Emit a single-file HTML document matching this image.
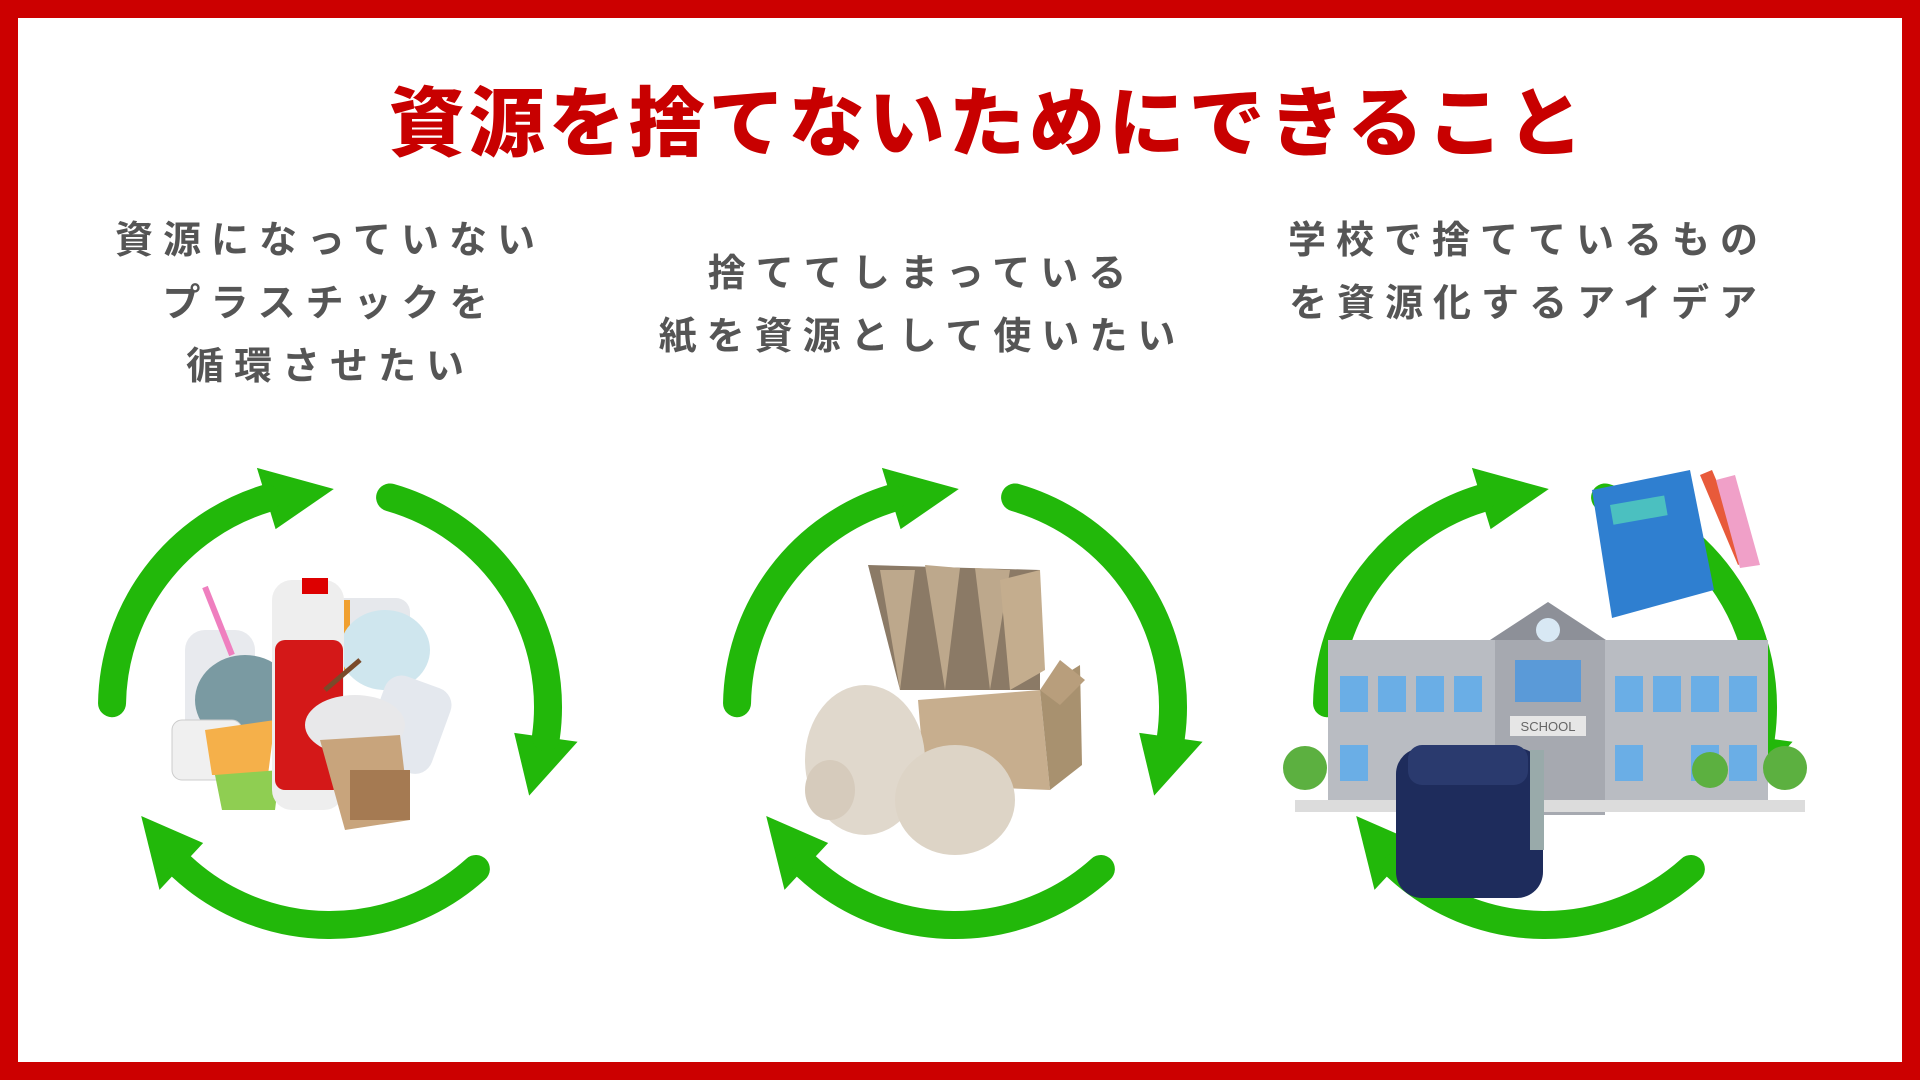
<!DOCTYPE html>
<html><head><meta charset="utf-8">
<style>
html,body{margin:0;padding:0;}
body{width:1920px;height:1080px;position:relative;background:#fff;overflow:hidden;font-family:"Liberation Sans","Noto Sans CJK JP",sans-serif;}
.frame{position:absolute;left:0;top:0;width:1920px;height:1080px;box-sizing:border-box;border:18px solid #cc0000;}
.title{position:absolute;left:28px;width:1920px;top:80px;text-align:center;font-size:76px;font-weight:900;color:#c80000;letter-spacing:4px;line-height:90px;}
.sub{position:absolute;text-align:center;font-size:38px;font-weight:700;color:#555;letter-spacing:10px;line-height:63px;width:640px;}
svg{position:absolute;left:0;top:0;}
</style></head><body>
<div class="frame"></div>
<div class="title">資源を捨てないためにできること</div>
<div class="sub" style="left:10px;top:210px;">資源になっていない<br>プラスチックを<br>循環させたい</div>
<div class="sub" style="left:602px;top:243px;">捨ててしまっている<br>紙を資源として使いたい</div>
<div class="sub" style="left:1208px;top:210px;">学校で捨てているもの<br>を資源化するアイデア</div>
<svg id="s" width="1920" height="1080" xmlns="http://www.w3.org/2000/svg">
<g>
<rect x="290" y="598" width="120" height="70" rx="14" fill="#e6e8ec"/>
<rect x="320" y="600" width="30" height="70" fill="#f0a030"/>
<ellipse cx="385" cy="650" rx="45" ry="40" fill="#cfe6ee"/>
<rect x="375" y="680" width="70" height="90" rx="18" fill="#e4e8ee" transform="rotate(20 410 720)"/>
<rect x="185" y="630" width="70" height="110" rx="20" fill="#e8eaee"/>
<line x1="205" y1="587" x2="232" y2="655" stroke="#ef7fbf" stroke-width="6"/>
<ellipse cx="245" cy="700" rx="50" ry="45" fill="#7a9aa2"/>
<rect x="172" y="720" width="70" height="60" rx="10" fill="#f0f0f0" stroke="#ccc"/>
<polygon points="205,730 275,720 268,775 212,775" fill="#f5b04a"/>
<polygon points="215,775 280,770 275,810 222,810" fill="#8fce52"/>
<rect x="272" y="580" width="72" height="230" rx="20" fill="#eee"/>
<rect x="275" y="640" width="68" height="150" rx="10" fill="#d41818"/>
<rect x="302" y="578" width="26" height="16" fill="#d00"/>
<ellipse cx="355" cy="725" rx="50" ry="30" fill="#e8e8ea"/>
<polygon points="320,740 400,735 410,820 345,830" fill="#c8a47c"/>
<rect x="350" y="770" width="60" height="50" fill="#a57a52"/>
<line x1="325" y1="690" x2="360" y2="660" stroke="#7a4a2a" stroke-width="5"/>
</g>
<g>
<polygon points="868,565 1040,570 1040,690 900,690" fill="#8b7a66"/>
<polygon points="880,570 900,690 915,570" fill="#bda88c"/>
<polygon points="925,565 945,690 960,568" fill="#bda88c"/>
<polygon points="975,568 990,690 1010,570" fill="#bda88c"/>
<polygon points="1000,580 1040,570 1045,670 1010,690" fill="#c4ad8e"/>
<polygon points="918,700 1040,690 1050,790 925,785" fill="#c7ae8e"/>
<polygon points="1040,690 1080,665 1082,765 1050,790" fill="#a8916f"/>
<polygon points="1040,690 1060,660 1085,680 1060,705" fill="#b89e7c"/>
<ellipse cx="865" cy="760" rx="60" ry="75" fill="#e0d8cc"/>
<ellipse cx="955" cy="800" rx="60" ry="55" fill="#ddd4c6"/>
<ellipse cx="830" cy="790" rx="25" ry="30" fill="#d6cbbc"/>
</g>
<g>
<rect x="1328" y="640" width="440" height="170" fill="#b9bcc2"/>
<polygon points="1490,640 1548,602 1606,640" fill="#8d9098"/>
<rect x="1495" y="640" width="110" height="175" fill="#a6a9b0"/>
<circle cx="1548" cy="630" r="12" fill="#d8e8f4"/>
<rect x="1515" y="660" width="66" height="42" fill="#5a9ad8"/>
<rect x="1510" y="716" width="76" height="20" fill="#e6e6e6"/>
<text x="1548" y="731" font-size="13" text-anchor="middle" fill="#666" font-family="Liberation Sans,sans-serif">SCHOOL</text>
<g fill="#6aaee6">
<rect x="1340" y="676" width="28" height="36"/><rect x="1378" y="676" width="28" height="36"/><rect x="1416" y="676" width="28" height="36"/><rect x="1454" y="676" width="28" height="36"/>
<rect x="1615" y="676" width="28" height="36"/><rect x="1653" y="676" width="28" height="36"/><rect x="1691" y="676" width="28" height="36"/><rect x="1729" y="676" width="28" height="36"/>
<rect x="1340" y="745" width="28" height="36"/><rect x="1615" y="745" width="28" height="36"/><rect x="1691" y="745" width="28" height="36"/><rect x="1729" y="745" width="28" height="36"/>
</g>
<rect x="1295" y="800" width="510" height="12" fill="#dcdcdc"/>
<circle cx="1305" cy="768" r="22" fill="#5cb040"/><circle cx="1785" cy="768" r="22" fill="#5cb040"/><circle cx="1710" cy="770" r="18" fill="#5cb040"/>
<rect x="1396" y="748" width="147" height="150" rx="26" fill="#1e2c5c"/>
<rect x="1408" y="745" width="120" height="40" rx="14" fill="#2a3a6e"/>
<rect x="1530" y="750" width="14" height="100" fill="#9aa"/>
<polygon points="1592,490 1690,470 1714,590 1612,618" fill="#2f7fd0"/>
<rect x="1610" y="505" width="55" height="20" fill="#4bc0c0" transform="rotate(-10 1610 505)"/>
<polygon points="1700,475 1712,470 1750,560 1738,565" fill="#e85a3a"/>
<polygon points="1716,480 1735,475 1760,565 1740,568" fill="#f0a0c8"/>
</g>
</svg>
<script>
var s=document.getElementById('s'),NS='http://www.w3.org/2000/svg';
var R=218,W=28,G='#22b80a';
function P(cx,cy,a,r){a=a*Math.PI/180;return [cx+r*Math.cos(a),cy+r*Math.sin(a)];}
function arc(cx,cy,a0,a1,tip){
 var p0=P(cx,cy,a0,R),p1=P(cx,cy,a1,R);
 var large=((a1-a0+360)%360)>180?1:0;
 var path=document.createElementNS(NS,'path');
 path.setAttribute('d','M'+p0+' A'+R+' '+R+' 0 '+large+' 1 '+p1);
 path.setAttribute('fill','none');path.setAttribute('stroke',G);path.setAttribute('stroke-width',W);path.setAttribute('stroke-linecap','round');
 s.insertBefore(path,s.firstChild);
 var b1=P(cx,cy,a1,R-32),b2=P(cx,cy,a1,R+32),t=P(cx,cy,tip,R);
 var pg=document.createElementNS(NS,'polygon');
 pg.setAttribute('points',b1+' '+b2+' '+t);pg.setAttribute('fill',G);
 s.insertBefore(pg,s.firstChild);
}
[[330,707],[955,707],[1545,707]].forEach(function(c){
 arc(c[0],c[1],181,253,271);
 arc(c[0],c[1],286,8,24);
 arc(c[0],c[1],48,133,150);
});
</script>
</body></html>
